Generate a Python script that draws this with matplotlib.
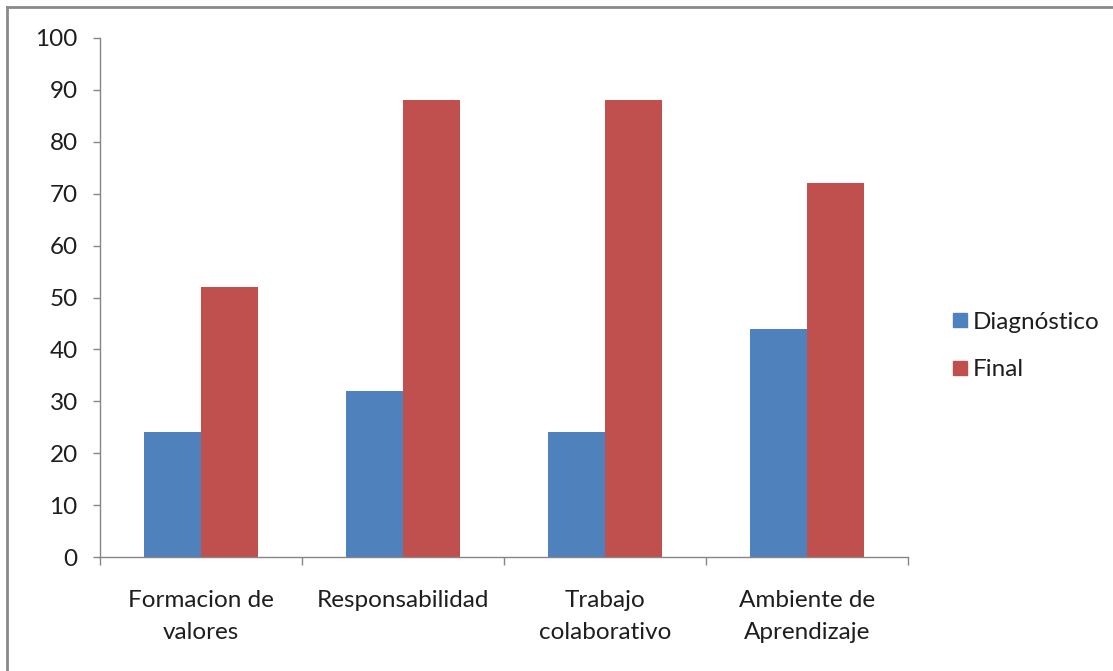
import matplotlib
matplotlib.use("Agg")
import matplotlib.pyplot as plt
import numpy as np
from matplotlib.lines import Line2D

categories = ["Formacion de\nvalores", "Responsabilidad", "Trabajo\ncolaborativo", "Ambiente de\nAprendizaje"]
diagnostico = [24, 32, 24, 44]
final = [52, 88, 88, 72]
series_names = ["Diagnóstico", "Final"]
y_ticks = [0, 10, 20, 30, 40, 50, 60, 70, 80, 90, 100]

BLUE = "#4F81BD"
RED = "#C0504D"
AXIS_GREY = "#868686"
TEXT = "#1e1e1e"
FS = 17.5

plt.rcParams["font.family"] = ["Lato", "DejaVu Sans"]
plt.rcParams["font.size"] = FS

fig = plt.figure(figsize=(11.13, 6.71), dpi=100)
ax = fig.add_axes([100 / 1113, 1 - 557 / 671, 808 / 1113, 519 / 671])

x = np.arange(len(categories))
w = 0.282
ax.bar(x - w / 2, diagnostico, width=w, color=BLUE, label=series_names[0])
ax.bar(x + w / 2, final, width=w, color=RED, label=series_names[1])

ax.set_xlim(-0.5, len(categories) - 0.5)
ax.set_ylim(0, 100)
ax.set_yticks(y_ticks)
ax.set_yticklabels([str(t) for t in y_ticks], color=TEXT)

# category boundaries carry the tick marks; labels sit at the centres
ax.set_xticks(np.arange(len(categories) + 1) - 0.5)
ax.set_xticklabels([])
ax.tick_params(axis="x", length=6, color=AXIS_GREY, width=1)
ax.tick_params(axis="y", length=5, color=AXIS_GREY, width=1, pad=11)
for i, lab in enumerate(categories):
    ax.text(i, -0.063, lab, transform=ax.get_xaxis_transform(), ha="center", va="top",
            fontsize=FS, color=TEXT, linespacing=1.68)

for side in ["top", "right"]:
    ax.spines[side].set_visible(False)
for side in ["left", "bottom"]:
    ax.spines[side].set_color(AXIS_GREY)
    ax.spines[side].set_linewidth(1)

handles = [Line2D([], [], marker="s", linestyle="none", markersize=10, color=c) for c in (BLUE, RED)]
fig.legend(handles, series_names, loc="upper left", bbox_to_anchor=(938 / 1113, 1 - 302 / 671),
           frameon=False, handletextpad=0.05, labelspacing=1.1, fontsize=FS, borderaxespad=0,
           handlelength=1.0, labelcolor=TEXT)

# outer frame along the top and left edges
fig.add_artist(Line2D([7 / 1113, 7 / 1113], [0, 1 - 7 / 671], transform=fig.transFigure,
                      color="#8a8a8a", linewidth=2))
fig.add_artist(Line2D([7 / 1113, 1], [1 - 7 / 671, 1 - 7 / 671], transform=fig.transFigure,
                      color="#8a8a8a", linewidth=2))

fig.savefig("out.png", dpi=100)
